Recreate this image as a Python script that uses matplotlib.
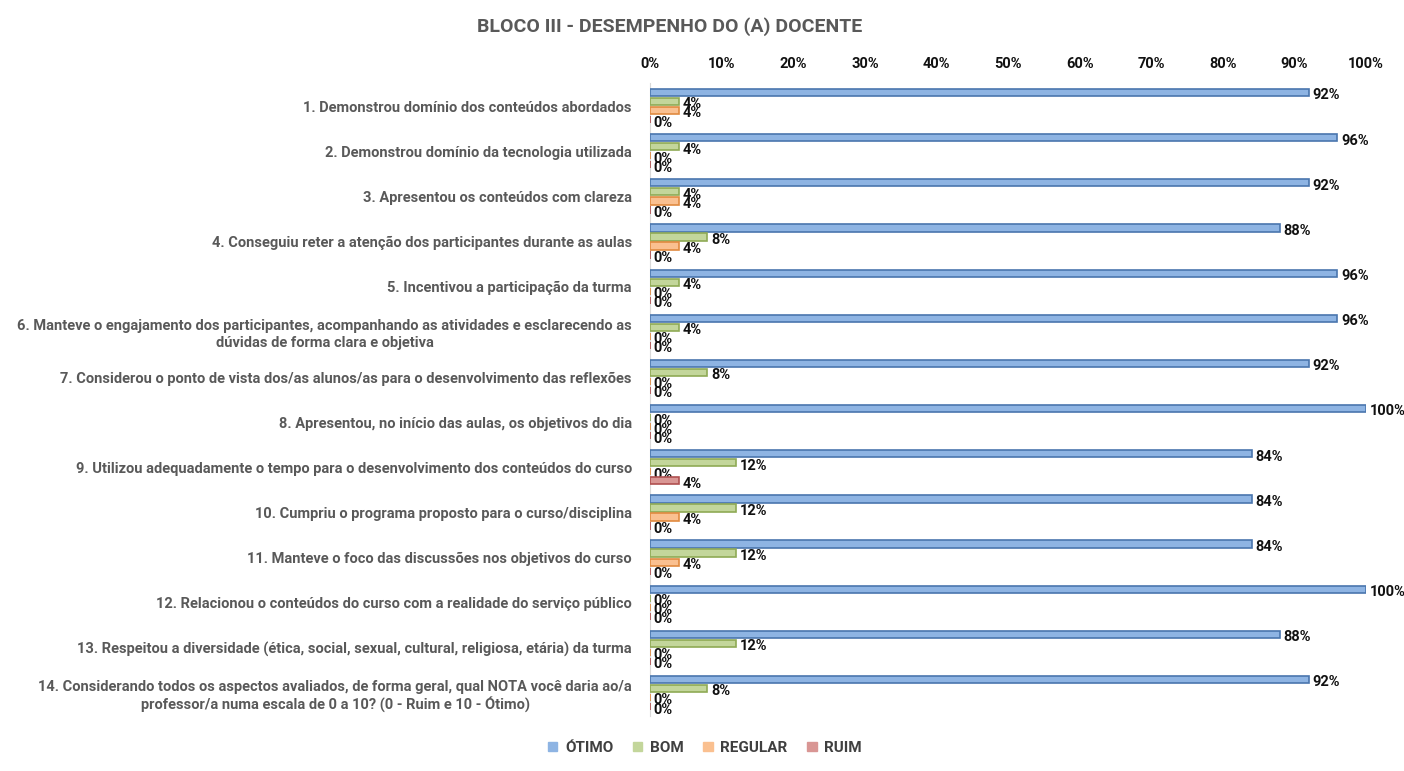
import numpy as np
import matplotlib.pyplot as plt
from matplotlib.patches import Patch

plt.rcParams['font.family'] = ['Roboto', 'DejaVu Sans']

questions = [
    '1. Demonstrou domínio dos conteúdos abordados',
    '2. Demonstrou domínio da tecnologia utilizada',
    '3. Apresentou os conteúdos com clareza',
    '4. Conseguiu reter a atenção dos participantes durante as aulas',
    '5. Incentivou a participação da turma',
    '6. Manteve o engajamento dos participantes, acompanhando as atividades e esclarecendo as\ndúvidas de forma clara e objetiva',
    '7. Considerou o ponto de vista dos/as alunos/as para o desenvolvimento das reflexões',
    '8. Apresentou, no início das aulas, os objetivos do dia',
    '9. Utilizou adequadamente o tempo para o desenvolvimento dos conteúdos do curso',
    '10. Cumpriu o programa proposto para o curso/disciplina',
    '11. Manteve o foco das discussões nos objetivos do curso',
    '12. Relacionou o conteúdos do curso com a realidade do serviço público',
    '13. Respeitou a diversidade (ética, social, sexual, cultural, religiosa, etária) da turma',
    '14. Considerando todos os aspectos avaliados, de forma geral, qual NOTA você daria ao/a\nprofessor/a numa escala de 0 a 10? (0 - Ruim e 10 - Ótimo)',
]
otimo   = [92, 96, 92, 88, 96, 96, 92, 100, 84, 84, 84, 100, 88, 92]
bom     = [4, 4, 4, 8, 4, 4, 8, 0, 12, 12, 12, 0, 12, 8]
regular = [4, 0, 4, 4, 0, 0, 0, 0, 0, 4, 4, 0, 0, 0]
ruim    = [0, 0, 0, 0, 0, 0, 0, 0, 4, 0, 0, 0, 0, 0]

series = ['ÓTIMO', 'BOM', 'REGULAR', 'RUIM']
faces = ['#8EB4E3', '#C3D69B', '#FAC090', '#D99694']
edges = ['#4A76AE', '#8FAA55', '#E08A40', '#B05050']

fig = plt.figure(figsize=(14.04, 7.71), dpi=100)
ax = fig.add_axes([0.463, 0.0718, 0.510, 0.8199])

y = np.arange(len(questions))
step = 0.2
h = 0.16
for k, vals in enumerate([otimo, bom, regular, ruim]):
    pos = y - 0.3 + k * step
    bars = ax.barh(pos, vals, height=h, color=faces[k], edgecolor=edges[k], linewidth=1.2, zorder=3)
    for b, v in zip(bars, vals):
        ax.text(b.get_width() + 0.5, b.get_y() + h * 0.9, f'{v}%',
                ha='left', va='center', fontsize=10.5, fontweight='bold', color='#111111')

ax.set_xlim(0, 100)
ax.set_ylim(len(questions) - 0.5, -0.5)
ax.xaxis.tick_top()
ax.set_xticks(np.arange(0, 101, 10))
ax.set_xticklabels([f'{t}%' for t in range(0, 101, 10)], fontsize=10.5, fontweight='bold', color='#111111')
ax.set_yticks(y)
ax.set_yticklabels(questions, fontsize=10.5, fontweight='bold', color='#595959', multialignment='center')
ax.tick_params(length=0, pad=13)
ax.tick_params(axis='x', pad=9)
for s in ['top', 'right', 'bottom']:
    ax.spines[s].set_visible(False)
ax.spines['left'].set_color('#D9D9D9')

fig.text(670 / 1404, 1 - 27 / 771, 'BLOCO III - DESEMPENHO DO (A) DOCENTE', ha='center', va='center',
         fontsize=14, fontweight='bold', color='#595959')

handles = [Patch(facecolor=f, edgecolor=f) for f in faces]
fig.legend(handles, series, loc='center', bbox_to_anchor=(705 / 1404, 1 - 748 / 771), ncol=4, frameon=False,
           prop={'weight': 'bold', 'size': 11}, handlelength=0.6, handleheight=0.6, columnspacing=1.3,
           handletextpad=0.5, labelcolor='#404040')

fig.savefig('out.png', dpi=100)
